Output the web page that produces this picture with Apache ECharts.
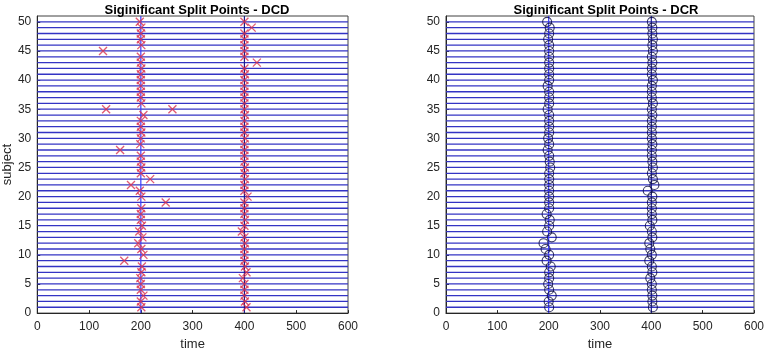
<!DOCTYPE html>
<html>
<head>
<meta charset="utf-8">
<script src="https://cdn.jsdelivr.net/npm/echarts@6/dist/echarts.min.js"></script>
<style>
  html, body { margin: 0; padding: 0; background: #fff; }
  #main { width: 767px; height: 356px; }
</style>
</head>
<body>
<div id="main"></div>
<script>
// subjects 1..50, each has one line and split points
var subjects = [];
for (var s = 1; s <= 50; s++) subjects.push(s);
var timeRange = [0, 600];
var trueSplits = [200, 400];

// DCD: first and second split per subject (index = subject - 1)
var dcdFirst = [201, 200, 205, 200, 200, 199, 201, 202, 168, 205,
                201, 195, 203, 197, 202, 200, 200, 201, 248, 201,
                198, 181, 218, 200, 201, 200, 200, 160, 199, 200,
                201, 200, 200, 205, 133, 201, 200, 200, 200, 200,
                200, 201, 200, 200, 127, 201, 200, 200, 201, 198];
var dcdSecond = [404, 401, 400, 400, 400, 397, 404, 401, 400, 400,
                 400, 401, 400, 395, 400, 401, 400, 400, 400, 406,
                 400, 400, 401, 400, 401, 400, 400, 400, 400, 401,
                 400, 400, 400, 401, 400, 400, 400, 400, 400, 400,
                 401, 400, 424, 400, 400, 400, 400, 400, 414, 400];
var dcdExtraTime = [261];
var dcdExtraSubject = [35];

// DCR
var dcrFirst = [201, 200, 206, 201, 199, 201, 201, 204, 196, 201,
                194, 190, 206, 197, 201, 202, 196, 201, 201, 201,
                201, 201, 201, 201, 203, 202, 201, 198, 201, 199,
                201, 201, 201, 201, 198, 201, 201, 201, 198, 201,
                201, 201, 201, 201, 201, 201, 199, 201, 202, 197];
var dcrSecond = [403, 402, 402, 401, 401, 398, 402, 401, 396, 401,
                 398, 396, 402, 401, 397, 402, 401, 401, 401, 402,
                 393, 406, 403, 401, 403, 402, 401, 401, 402, 401,
                 401, 401, 401, 402, 401, 403, 401, 401, 401, 403,
                 401, 401, 402, 401, 403, 402, 403, 402, 402, 401];

var xTicks = 100;
var yTicks = 5;
var yMax = 51;

var FONT = 'Liberation Sans';
var TXT = '#262626';
var crossPath = 'path://M0,0L10,10M10,0L0,10';

function pts(times, subs) {
    var out = [];
    for (var i = 0; i < times.length; i++) out.push([times[i], subs[i]]);
    return out;
}

function panelSeries(idx, first, second, extraT, extraS, symbol, symColor, symSize, bw) {
    var list = [];
    // subject lines
    subjects.forEach(function (s) {
        list.push({
            type: 'line', xAxisIndex: idx, yAxisIndex: idx,
            data: [[timeRange[0], s], [timeRange[1], s]],
            symbol: 'none', silent: true, z: 1,
            lineStyle: { color: '#3434c4', width: 1.3 }
        });
    });
    // true split lines
    trueSplits.forEach(function (t, k) {
        list.push({
            type: 'line', xAxisIndex: idx, yAxisIndex: idx,
            data: [[t, 0], [t, yMax]],
            symbol: 'none', silent: true, z: 2,
            lineStyle: { color: k == 0 ? '#3c3cff' : '#1c1c8c', width: 1.2 }
        });
    });
    var all = pts(first, subjects).concat(pts(second, subjects)).concat(pts(extraT, extraS));
    list.push({
        type: 'scatter', xAxisIndex: idx, yAxisIndex: idx,
        data: all, symbol: symbol, symbolSize: symSize, z: 5,
        itemStyle: { color: 'rgba(0,0,0,0)', borderColor: symColor, borderWidth: bw }
    });
    return list;
}

function xAxis(idx) {
    return {
        type: 'value', gridIndex: idx, min: timeRange[0], max: timeRange[1], interval: xTicks,
        name: 'time', nameLocation: 'middle', nameGap: 17,
        nameTextStyle: { fontFamily: FONT, fontSize: 13, color: TXT },
        axisLine: { lineStyle: { color: '#262626' } },
        axisTick: { inside: true, length: 3, lineStyle: { color: '#262626' } },
        axisLabel: { fontFamily: FONT, fontSize: 12, color: TXT, margin: 8 },
        splitLine: { show: false }
    };
}

function yAxis(idx, withName) {
    return {
        type: 'value', gridIndex: idx, min: 0, max: yMax, interval: yTicks,
        name: withName ? 'subject' : '', nameLocation: 'middle', nameGap: 19,
        nameTextStyle: { fontFamily: FONT, fontSize: 13, color: TXT },
        axisLine: { lineStyle: { color: '#262626' } },
        axisTick: { inside: true, length: 3, lineStyle: { color: '#262626' } },
        axisLabel: { fontFamily: FONT, fontSize: 12, color: TXT, margin: 6, showMaxLabel: false },
        splitLine: { show: false }
    };
}

var myChart = echarts.init(document.getElementById('main'));
var option = {
    animation: false,
    backgroundColor: '#fff',
    title: [
        { text: 'Siginificant Split Points - DCD', left: 192, top: -1, textAlign: 'center',
          textStyle: { fontFamily: FONT, fontSize: 13, fontWeight: 'bold', color: '#000' } },
        { text: 'Siginificant Split Points - DCR', left: 601, top: -1, textAlign: 'center',
          textStyle: { fontFamily: FONT, fontSize: 13, fontWeight: 'bold', color: '#000' } }
    ],
    grid: [
        { left: 37, top: 16, width: 311, height: 306, show: true, borderColor: '#404040', borderWidth: 1 },
        { left: 446, top: 16, width: 311, height: 306, show: true, borderColor: '#404040', borderWidth: 1 }
    ],
    xAxis: [xAxis(0), xAxis(1)],
    yAxis: [yAxis(0, true), yAxis(1, false)],
    series: panelSeries(0, dcdFirst, dcdSecond, dcdExtraTime, dcdExtraSubject, crossPath, '#d9304f', 8, 1.3)
        .concat(panelSeries(1, dcrFirst, dcrSecond, [], [], 'circle', '#0a0a40', 9, 1.1))
};
myChart.setOption(option);
</script>
</body>
</html>
